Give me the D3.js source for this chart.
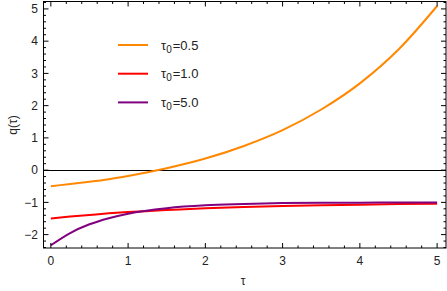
<!DOCTYPE html>
<html>
<head>
<meta charset="utf-8">
<script src="https://cdn.jsdelivr.net/npm/d3@7"></script>
<style>
  body { margin: 0; background: #fff; }
  text { font-family: "Liberation Sans", Arial, sans-serif; fill: #222; }
</style>
</head>
<body>
<script>
var w = 447, h = 291;

// values
var tau = [0, 0.25, 0.5, 0.75, 1, 1.5, 2, 2.5, 3, 3.5, 4, 4.5, 5];
var q05 = [-0.50, -0.43, -0.36, -0.28, -0.18, 0.06, 0.36, 0.75, 1.24, 1.88, 2.69, 3.74, 5.09];
var q10 = [-1.50, -1.44, -1.39, -1.34, -1.30, -1.24, -1.18, -1.14, -1.11, -1.09, -1.07, -1.05, -1.04];
var q50 = [-2.33, -1.95, -1.68, -1.49, -1.35, -1.18, -1.09, -1.05, -1.02, -1.01, -1.01, -1.00, -1.00];
var labels = ["0.5", "1.0", "5.0"];
var colors = ["rgb(255,136,0)", "rgb(255,0,0)", "rgb(128,0,128)"];
var xTicks = [0, 1, 2, 3, 4, 5];
var yTicks = [-2, -1, 0, 1, 2, 3, 4, 5];

var series = [q05, q10, q50];

var pLeft = 43.5, pRight = 446, pTop = 1.5, pBottom = 248;

var svg = d3.select("body").append("svg").attr("width", w).attr("height", h);

var xScale = d3.scaleLinear().domain([-0.095, 5.115]).range([pLeft, pRight]);
var yScale = d3.scaleLinear().domain([-2.415, 5.23]).range([pBottom, pTop]);

// zero line
var y0 = Math.round(yScale(0)) + 0.5;
svg.append("line")
    .attr("x1", pLeft).attr("x2", pRight)
    .attr("y1", y0).attr("y2", y0)
    .attr("stroke", "#000").attr("stroke-width", 1);

// curves
var line = d3.line()
    .x(function (d, i) { return xScale(tau[i]); })
    .y(function (d) { return yScale(d); })
    .curve(d3.curveMonotoneX);

svg.selectAll("path.curve").data(series).enter().append("path")
    .attr("class", "curve")
    .attr("d", line)
    .attr("fill", "none")
    .attr("stroke", function (d, i) { return colors[i]; })
    .attr("stroke-width", 2);

// frame
svg.append("rect")
    .attr("x", pLeft).attr("y", pTop)
    .attr("width", pRight - pLeft).attr("height", pBottom - pTop)
    .attr("fill", "none").attr("stroke", "#000").attr("stroke-width", 1);

// ticks (inward, all four sides)
var xMinor = d3.range(0, 5.12, 0.2).map(function (v) { return +v.toFixed(1); });
var yMinor = d3.range(-2.4, 5.24, 0.2).map(function (v) { return +v.toFixed(1); });
function isMajor(v) { return Math.abs(v - Math.round(v)) < 1e-6; }

var tg = svg.append("g").attr("stroke", "#000").attr("stroke-width", 1);
xMinor.forEach(function (v) {
    var len = isMajor(v) ? 5 : 2.5;
    var x = xScale(v);
    tg.append("line").attr("x1", x).attr("x2", x).attr("y1", pBottom).attr("y2", pBottom - len);
    tg.append("line").attr("x1", x).attr("x2", x).attr("y1", pTop).attr("y2", pTop + len);
});
yMinor.forEach(function (v) {
    var len = isMajor(v) ? 5 : 2.5;
    var y = yScale(v);
    tg.append("line").attr("x1", pLeft).attr("x2", pLeft + len).attr("y1", y).attr("y2", y);
    tg.append("line").attr("x1", pRight).attr("x2", pRight - len).attr("y1", y).attr("y2", y);
});

// tick labels
svg.selectAll("text.xt").data(xTicks).enter().append("text")
    .attr("class", "xt")
    .attr("x", function (d) { return xScale(d); })
    .attr("y", 265)
    .attr("text-anchor", "middle")
    .attr("font-size", 12)
    .text(function (d) { return d; });

svg.selectAll("text.yt").data(yTicks).enter().append("text")
    .attr("class", "yt")
    .attr("x", 38)
    .attr("y", function (d) { return yScale(d) + 4.3; })
    .attr("text-anchor", "end")
    .attr("font-size", 12)
    .text(function (d) { return d < 0 ? "\u2212" + (-d) : d; });

// axis labels
svg.append("text")
    .attr("x", 243).attr("y", 285)
    .attr("text-anchor", "middle").attr("font-size", 12)
    .text("τ");

svg.append("text")
    .attr("transform", "translate(17,125) rotate(-90)")
    .attr("text-anchor", "middle").attr("font-size", 12)
    .text("q(τ)");

// legend
var lg = svg.selectAll("g.leg").data(labels).enter().append("g")
    .attr("class", "leg")
    .attr("transform", function (d, i) { return "translate(0," + (45 + i * 28.7) + ")"; });

lg.append("line")
    .attr("x1", 118).attr("x2", 148)
    .attr("y1", 0).attr("y2", 0)
    .attr("stroke", function (d, i) { return colors[i]; })
    .attr("stroke-width", 2);

var lt = lg.append("text").attr("x", 161).attr("y", 4.5).attr("font-size", 13);
lt.append("tspan").text("τ");
lt.append("tspan").attr("dy", 3).attr("font-size", 10).text("0");
lt.append("tspan").attr("dy", -3).attr("dx", 1).text(function (d) { return "=" + d; });
</script>
</body>
</html>
